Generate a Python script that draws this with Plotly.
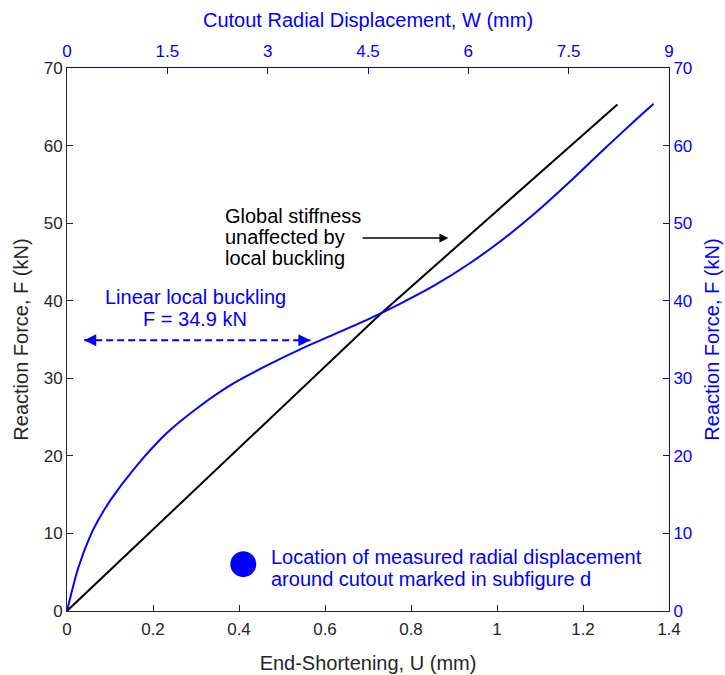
import plotly.graph_objects as go

# Global response: reaction force vs end-shortening
u_global = [0.0, 0.729, 1.28]
f_global = [0.0, 38.3, 65.3]

# Local response: reaction force vs cutout radial displacement
w_local = [0.0, 0.17, 0.36, 0.5, 0.65, 1.0, 1.5, 2.0, 2.5, 3.0, 3.5, 4.0,
           4.5, 5.0, 5.5, 6.0, 6.5, 7.0, 7.5, 8.0, 8.5, 8.77]
f_local = [0.0, 5.6, 9.9, 12.2, 14.3, 18.3, 23.0, 26.5, 29.4, 31.7, 33.8, 35.7,
           37.6, 39.7, 42.0, 44.7, 47.8, 51.3, 55.2, 59.3, 63.3, 65.4]

# Local buckling load
f_buckle = 34.9
u_buckle_span = [0.04, 0.566]

# Marker for the measurement location note
u_dot = [0.41]
f_dot = [6.04]

u_ticks = [0, 0.2, 0.4, 0.6, 0.8, 1, 1.2, 1.4]
w_ticks = [0, 1.5, 3, 4.5, 6, 7.5, 9]
f_ticks = [0, 10, 20, 30, 40, 50, 60, 70]

DARK = "#262626"
BLUE = "#0000ff"
FONT = "Liberation Sans, Arial, sans-serif"
TXT = 20

fig = go.Figure()

fig.add_trace(go.Scatter(x=u_global, y=f_global, mode="lines",
                         line=dict(color="black", width=2),
                         xaxis="x", yaxis="y", hoverinfo="skip"))
fig.add_trace(go.Scatter(x=w_local, y=f_local, mode="lines",
                         line=dict(color=BLUE, width=2, shape="spline", smoothing=0.8),
                         xaxis="x2", yaxis="y2", hoverinfo="skip"))
fig.add_trace(go.Scatter(x=u_dot, y=f_dot, mode="markers",
                         marker=dict(color=BLUE, size=26),
                         xaxis="x", yaxis="y", hoverinfo="skip"))
# dashed double arrow at the buckling load
fig.add_trace(go.Scatter(x=u_buckle_span, y=[f_buckle, f_buckle], mode="lines",
                         line=dict(color=BLUE, width=2, dash="7px,4px"),
                         xaxis="x", yaxis="y", hoverinfo="skip"))

for tip, tail in [(u_buckle_span[0], u_buckle_span[0] + 0.03),
                  (u_buckle_span[1], u_buckle_span[1] - 0.03)]:
    fig.add_annotation(x=tip, y=f_buckle, ax=tail, ay=f_buckle,
                       xref="x", yref="y", axref="x", ayref="y",
                       text="", showarrow=True, arrowhead=2, arrowsize=1.2,
                       arrowwidth=2, arrowcolor=BLUE)


def text_lines(lines, x, ys, color, xanchor):
    for line, y in zip(lines, ys):
        fig.add_annotation(x=x, y=y, xref="x", yref="y", xanchor=xanchor,
                           yanchor="middle", text=line, showarrow=False,
                           font=dict(family=FONT, size=TXT, color=color))


text_lines(["Linear local buckling", "F = 34.9 kN"], 0.298, [40.5, 37.7],
           BLUE, "center")

fig.add_annotation(x=0.887, y=48.1, ax=0.684, ay=48.1,
                   xref="x", yref="y", axref="x", ayref="y",
                   text="", showarrow=True, arrowhead=2, arrowsize=1.2,
                   arrowwidth=1.5, arrowcolor="black")
text_lines(["Global stiffness", "unaffected by", "local buckling"], 0.362,
           [50.95, 48.15, 45.5], "black", "left")

text_lines(["Location of measured radial displacement",
            "around cutout marked in subfigure d"], 0.469,
           [6.9, 4.15], BLUE, "left")

common = dict(showgrid=False, zeroline=False, showline=True, linewidth=1,
              ticks="inside", ticklen=6, tickwidth=1, automargin=False)

fig.update_layout(
    width=725, height=675,
    margin=dict(l=67, r=56, t=68, b=64, autoexpand=False),
    paper_bgcolor="white", plot_bgcolor="white",
    showlegend=False,
    font=dict(family=FONT, size=17, color=DARK),
    xaxis=dict(range=[0, 1.4], tickvals=u_ticks,
               ticktext=[f"{v:g}" for v in u_ticks],
               linecolor=DARK, tickcolor=DARK, ticklabelstandoff=3,
               tickfont=dict(size=17, color=DARK),
               title=dict(text="End-Shortening, U (mm)", standoff=17,
                          font=dict(size=TXT, color=DARK)),
               **common),
    yaxis=dict(range=[0, 70], tickvals=f_ticks,
               linecolor=DARK, tickcolor=DARK,
               tickfont=dict(size=17, color=DARK),
               title=dict(text="Reaction Force, F (kN)", standoff=9,
                          font=dict(size=TXT, color=DARK)),
               **common),
    xaxis2=dict(range=[0, 9], tickvals=w_ticks,
                ticktext=[f"{v:g}" for v in w_ticks],
                overlaying="x", side="top", anchor="y", ticklabelstandoff=3,
                linecolor=BLUE, tickcolor=BLUE,
                tickfont=dict(size=17, color=BLUE),
                title=dict(text="Cutout Radial Displacement, W (mm)", standoff=9,
                           font=dict(size=TXT, color=BLUE)),
                **common),
    yaxis2=dict(range=[0, 70], tickvals=f_ticks,
                overlaying="y", side="right", anchor="x",
                linecolor=BLUE, tickcolor=BLUE,
                tickfont=dict(size=17, color=BLUE),
                title=dict(text="Reaction Force, F (kN)", standoff=13,
                           font=dict(size=TXT, color=BLUE)),
                **common),
)

fig.write_html("out.html")
